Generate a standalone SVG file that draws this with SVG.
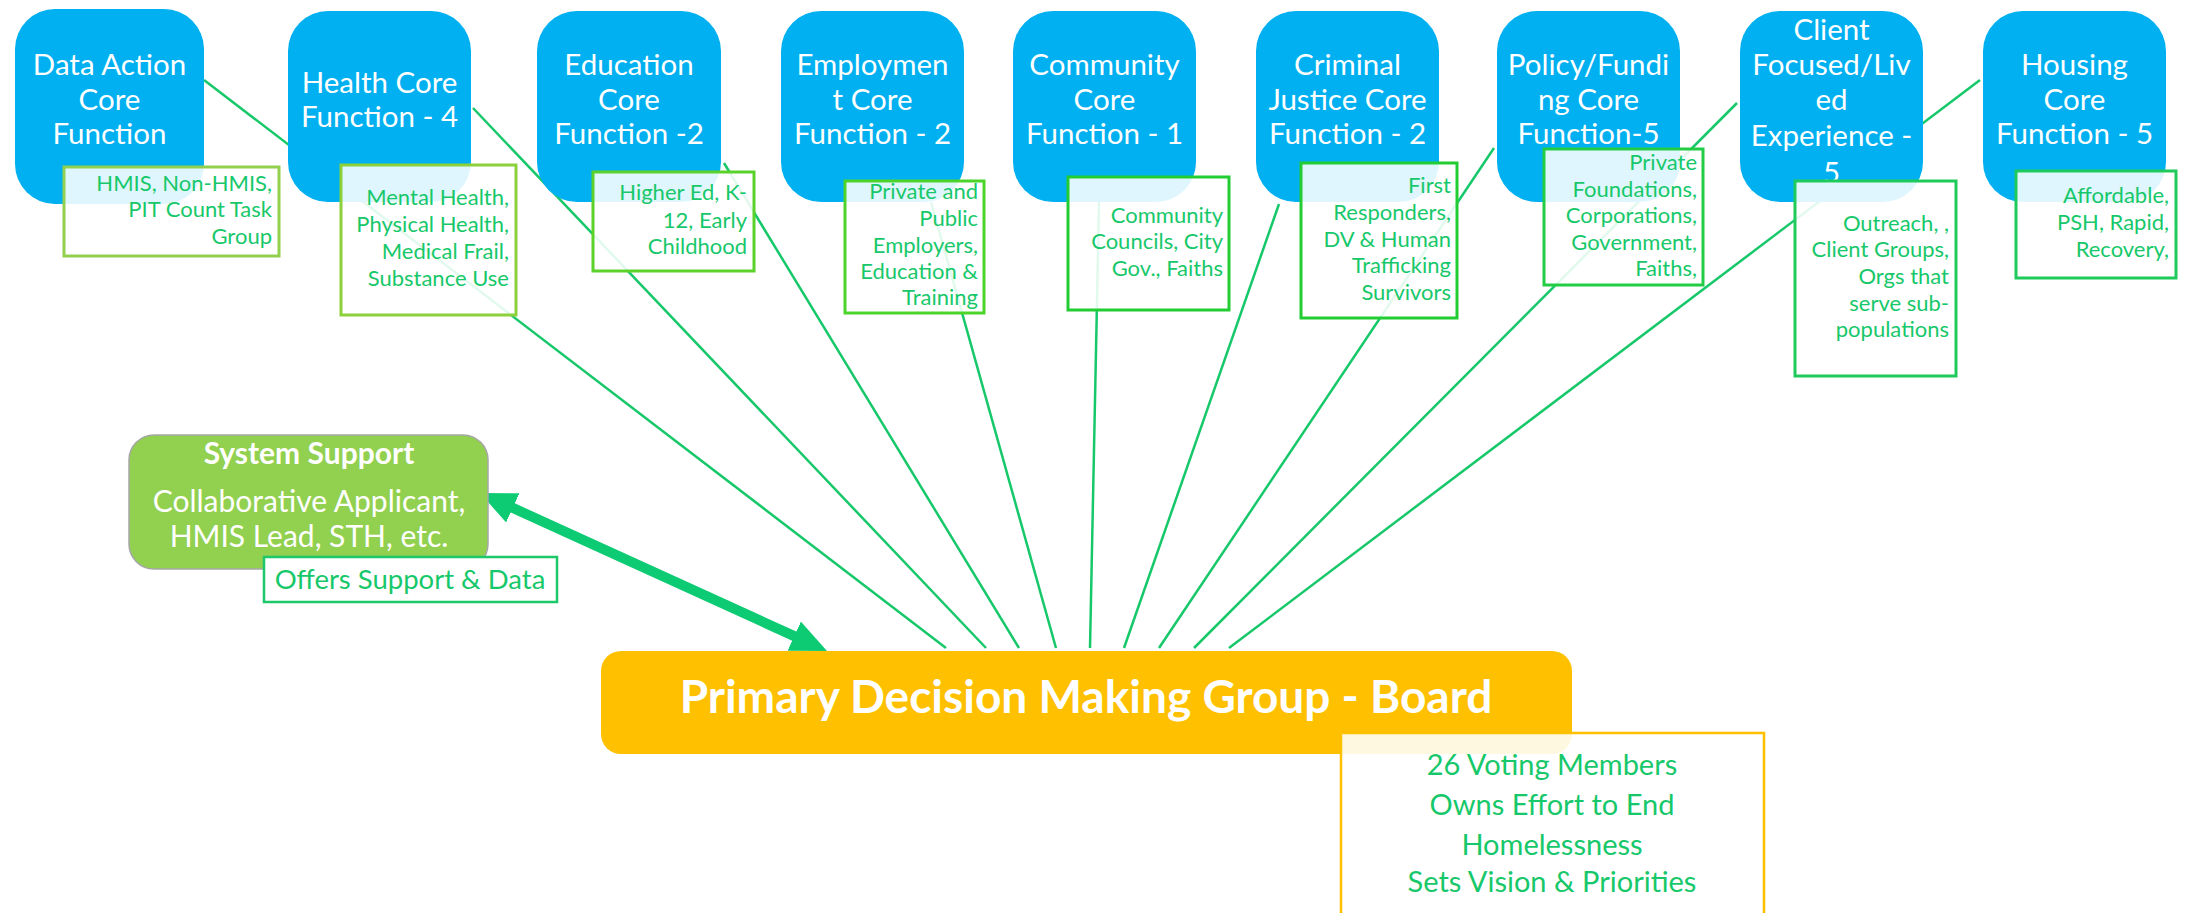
<svg xmlns="http://www.w3.org/2000/svg" width="2190" height="913" viewBox="0 0 2190 913">
<defs>
<style>
.core rect{fill:#00B0F0}
.core text{fill:#fff;font-family:Lato,"Liberation Sans",sans-serif;font-size:29.5px;text-anchor:middle}
.lbl rect{fill:#fff;fill-opacity:0.88;stroke-width:3}
.lbl text{fill:#17C86A;font-family:Lato,"Liberation Sans",sans-serif;font-size:22px;text-anchor:end}
.conn line{stroke:#17C86A;stroke-width:2.5}
.sys text{fill:#fff;font-family:Lato,"Liberation Sans",sans-serif;text-anchor:middle}
.gtxt{fill:#17C86A;font-family:Lato,"Liberation Sans",sans-serif;text-anchor:middle}
</style>
<marker id="ah" markerUnits="userSpaceOnUse" viewBox="0 0 36 32" refX="6" refY="16" markerWidth="36" markerHeight="32" orient="auto-start-reverse">
<path d="M0,0 L36,16 L0,32 z" fill="#0CCB73"/>
</marker>
</defs>
<rect width="2190" height="913" fill="#fff"/>

<g id="connectors" class="conn">
<line x1="204" y1="80" x2="946" y2="648"/>
<line x1="473" y1="108" x2="986" y2="648"/>
<line x1="724" y1="163" x2="1019" y2="648"/>
<line x1="931" y1="202" x2="1056" y2="648"/>
<line x1="1099" y1="202" x2="1090" y2="648"/>
<line x1="1279" y1="204" x2="1124" y2="648"/>
<line x1="1494" y1="148" x2="1159" y2="648"/>
<line x1="1737" y1="103" x2="1194" y2="648"/>
<line x1="1980" y1="80" x2="1229" y2="648"/>
<line x1="507.3" y1="505.4" x2="799.7" y2="638.6" marker-start="url(#ah)" marker-end="url(#ah)" style="stroke:#0CCB73;stroke-width:10"/>
</g>

<g id="data-action" class="core">
<rect x="15" y="9" width="189" height="195" rx="40"/>
<text x="109.5" y="75">Data Action</text><text x="109.5" y="110">Core</text><text x="109.5" y="144">Function</text>
</g>
<g id="health" class="core">
<rect x="288" y="11" width="183" height="191" rx="40"/>
<text x="379.5" y="93">Health Core</text><text x="379.5" y="127">Function - 4</text>
</g>
<g id="education" class="core">
<rect x="537" y="11" width="184" height="191" rx="40"/>
<text x="629" y="75">Education</text><text x="629" y="110">Core</text><text x="629" y="144">Function -2</text>
</g>
<g id="employment" class="core">
<rect x="781" y="11" width="183" height="191" rx="40"/>
<text x="872.5" y="75">Employmen</text><text x="872.5" y="110">t Core</text><text x="872.5" y="144">Function - 2</text>
</g>
<g id="community" class="core">
<rect x="1013" y="11" width="183" height="191" rx="40"/>
<text x="1104.5" y="75">Community</text><text x="1104.5" y="110">Core</text><text x="1104.5" y="144">Function - 1</text>
</g>
<g id="criminal-justice" class="core">
<rect x="1256" y="11" width="183" height="191" rx="40"/>
<text x="1347.5" y="75">Criminal</text><text x="1347.5" y="110">Justice Core</text><text x="1347.5" y="144">Function - 2</text>
</g>
<g id="policy-funding" class="core">
<rect x="1497" y="11" width="183" height="191" rx="40"/>
<text x="1588.5" y="75">Policy/Fundi</text><text x="1588.5" y="110">ng Core</text><text x="1588.5" y="144">Function-5</text>
</g>
<g id="client-focused" class="core">
<rect x="1740" y="11" width="183" height="191" rx="40"/>
<text x="1831.5" y="40">Client</text><text x="1831.5" y="75">Focused/Liv</text><text x="1831.5" y="110">ed</text><text x="1831.5" y="146">Experience -</text><text x="1831.5" y="183">5</text>
</g>
<g id="housing" class="core">
<rect x="1983" y="11" width="183" height="191" rx="40"/>
<text x="2074.5" y="75">Housing</text><text x="2074.5" y="110">Core</text><text x="2074.5" y="144">Function - 5</text>
</g>

<g id="label-data-action" class="lbl">
<rect x="64" y="167" width="215" height="89" stroke="#92D050"/>
<text x="272" y="191">HMIS, Non-HMIS,</text><text x="272" y="217">PIT Count Task</text><text x="272" y="244">Group</text>
</g>
<g id="label-health" class="lbl">
<rect x="341" y="165" width="175" height="150" stroke="#8CD13A"/>
<text x="509" y="205">Mental Health,</text><text x="509" y="232">Physical Health,</text><text x="509" y="259">Medical Frail,</text><text x="509" y="286">Substance Use</text>
</g>
<g id="label-education" class="lbl">
<rect x="593" y="172" width="161" height="99" stroke="#5BD12B"/>
<text x="747" y="200">Higher Ed, K-</text><text x="747" y="228">12, Early</text><text x="747" y="254">Childhood</text>
</g>
<g id="label-employment" class="lbl">
<rect x="845" y="181" width="139" height="132" stroke="#4CD42A"/>
<text x="978" y="199">Private and</text><text x="978" y="226">Public</text><text x="978" y="253">Employers,</text><text x="978" y="279">Education &amp;</text><text x="978" y="305">Training</text>
</g>
<g id="label-community" class="lbl">
<rect x="1068" y="177" width="161" height="133" stroke="#22CC33"/>
<text x="1223" y="223">Community</text><text x="1223" y="249">Councils, City</text><text x="1223" y="276">Gov., Faiths</text>
</g>
<g id="label-criminal-justice" class="lbl">
<rect x="1301" y="163" width="156" height="155" stroke="#22CC33"/>
<text x="1451" y="193">First</text><text x="1451" y="220">Responders,</text><text x="1451" y="247">DV &amp; Human</text><text x="1451" y="273">Trafficking</text><text x="1451" y="300">Survivors</text>
</g>
<g id="label-policy-funding" class="lbl">
<rect x="1544" y="149" width="159" height="136" stroke="#22CC44"/>
<text x="1697" y="170">Private</text><text x="1697" y="197">Foundations,</text><text x="1697" y="223">Corporations,</text><text x="1697" y="250">Government,</text><text x="1697" y="276">Faiths,</text>
</g>
<g id="label-client-focused" class="lbl">
<rect x="1795" y="181" width="161" height="195" stroke="#1ECB5A"/>
<text x="1949" y="231">Outreach, ,</text><text x="1949" y="257">Client Groups,</text><text x="1949" y="284">Orgs that</text><text x="1949" y="311">serve sub-</text><text x="1949" y="337">populations</text>
</g>
<g id="label-housing" class="lbl">
<rect x="2016" y="171" width="160" height="107" stroke="#1ECB5A"/>
<text x="2169" y="203">Affordable,</text><text x="2169" y="230">PSH, Rapid,</text><text x="2169" y="257">Recovery,</text>
</g>

<g id="system-support" class="sys">
<rect x="129" y="435" width="359" height="134" rx="25" fill="#92D050" stroke="#A6A6A6" stroke-width="1.5"/>
<text x="309" y="464" font-size="30" font-weight="bold">System Support</text>
<text x="309" y="512" font-size="30">Collaborative Applicant,</text>
<text x="309" y="547" font-size="30">HMIS Lead, STH, etc.</text>
</g>
<g id="label-system-support">
<rect x="264" y="557" width="293" height="45" fill="#fff" stroke="#1DC86A" stroke-width="2.5"/>
<text class="gtxt" x="410" y="589" font-size="27.5">Offers Support &amp; Data</text>
</g>

<g id="board">
<rect x="601" y="651" width="971" height="103" rx="20" fill="#FFC000"/>
<text x="1086" y="713" font-family="Lato,'Liberation Sans',sans-serif" font-size="46" font-weight="bold" fill="#fff" text-anchor="middle">Primary Decision Making Group - Board</text>
</g>
<g id="label-board">
<rect x="1341" y="733" width="423" height="200" fill="#fff" fill-opacity="0.88" stroke="#FFC000" stroke-width="2.5"/>
<text class="gtxt" x="1552" y="775" font-size="29">26 Voting Members</text>
<text class="gtxt" x="1552" y="815" font-size="29">Owns Effort to End</text>
<text class="gtxt" x="1552" y="855" font-size="29">Homelessness</text>
<text class="gtxt" x="1552" y="892" font-size="29">Sets Vision &amp; Priorities</text>
</g>
</svg>
